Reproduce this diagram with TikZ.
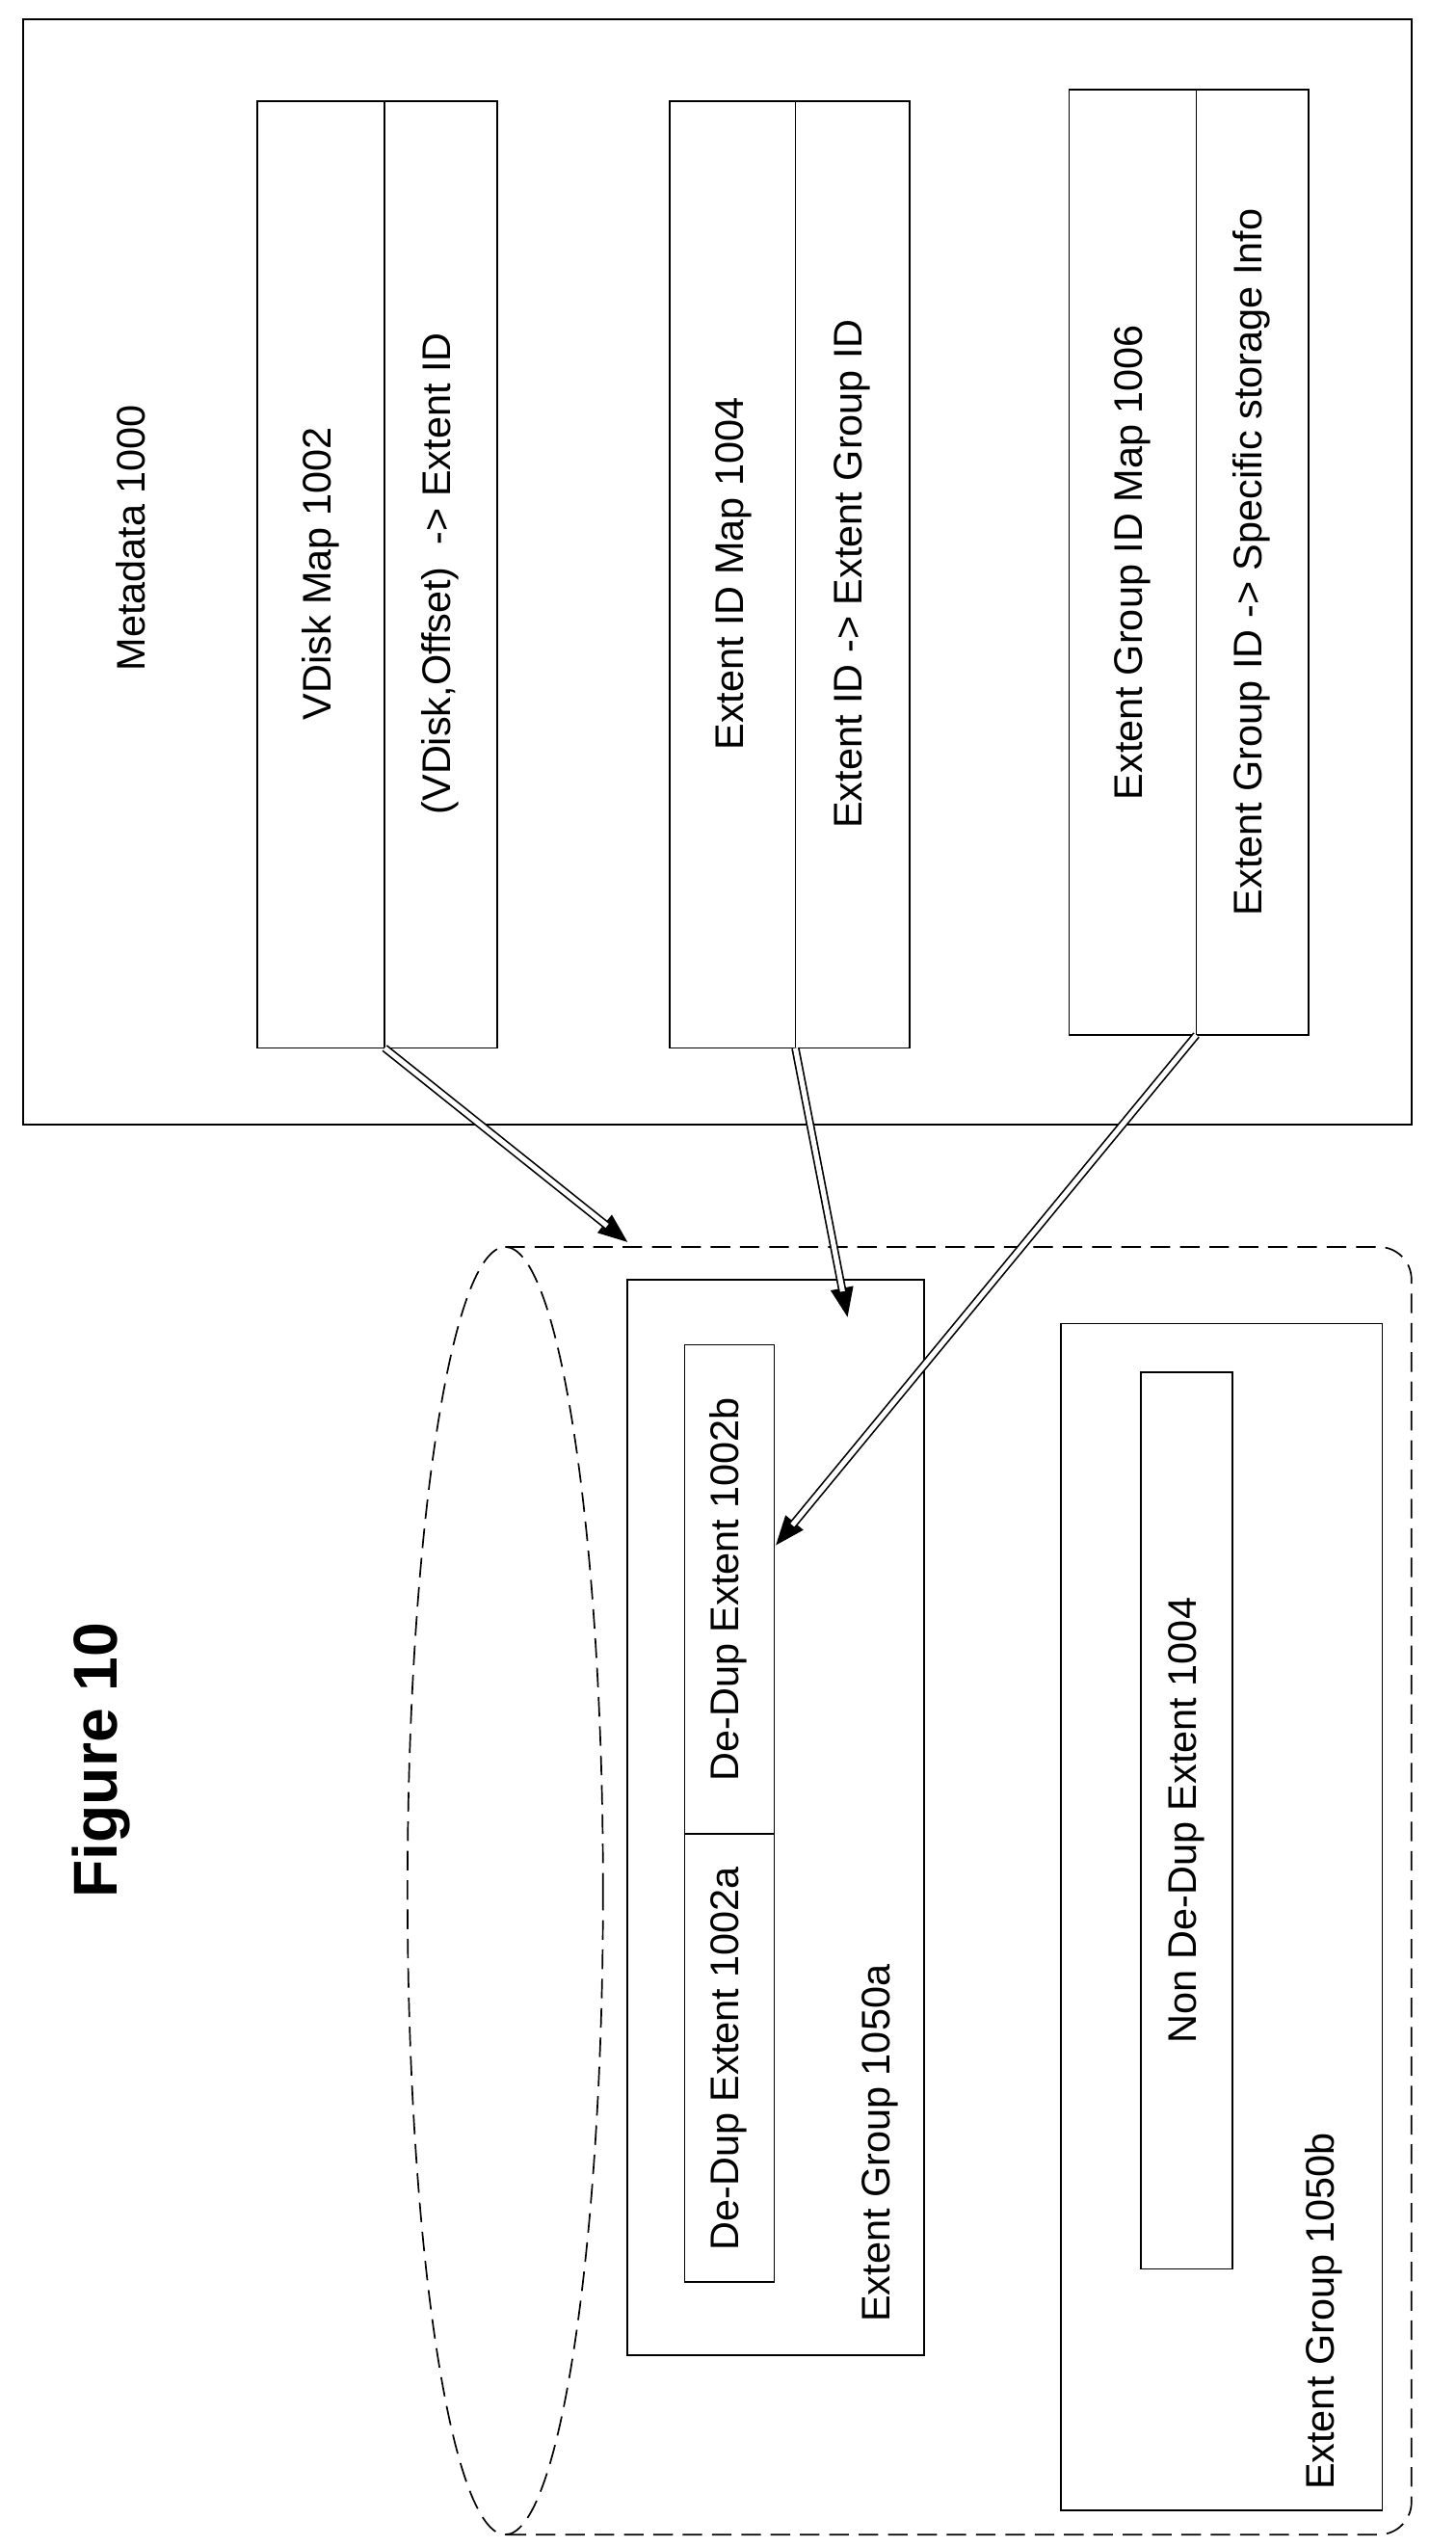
\documentclass[tikz,border=0pt]{standalone}
\usepackage{fontspec}
\setmainfont{Liberation Sans}
\usetikzlibrary{arrows.meta,positioning}
\tikzset{
  box/.style={draw, inner sep=0pt, line width=1pt},
  lbl/.style={rotate=90, font=\fontsize{24.5}{29}\selectfont},
  dbl/.style={double, double distance=3pt, line width=1pt, shorten >=16pt},
  tip/.style={-{Triangle[length=18pt,width=14pt]}, line width=1pt},
  dsh/.style={dash pattern=on 12pt off 6pt, line width=1pt}
}
\begin{document}
\begin{tikzpicture}[x=1pt,y=-1pt]
  \useasboundingbox (0,0) rectangle (893,1562);

  % metadata block
  \node[box, minimum width=852pt, minimum height=678pt] (meta) at (440,351) {};
  \node[lbl] (metat) at (80,330) {Metadata 1000};

  \node[box, minimum width=147pt, minimum height=581pt] (vmap) at (231.5,352.5) {};
  \node[box, minimum width=147pt, minimum height=581pt] (emap) at (484.5,352.5) {};
  \node[box, minimum width=147pt, minimum height=580pt] (gmap) at (729.5,345) {};
  \draw[line width=1pt] (236,62) -- (236,643);
  \draw[line width=1pt] (488,62) -- (488,643);
  \draw[line width=1pt] (734,55) -- (734,635);
  \node[lbl] (vmapt) at (197,352) {VDisk Map 1002};
  \node[lbl] (vmapk) at (270,352) {(VDisk,Offset) ~-> Extent ID};
  \node[lbl] (emapt) at (450,352) {Extent ID Map 1004};
  \node[lbl] (emapk) at (523,352) {Extent ID -> Extent Group ID};
  \node[lbl] (gmapt) at (695,345) {Extent Group ID Map 1006};
  \node[lbl] (gmapk) at (768,345) {Extent Group ID -> Specific storage Info};

  % storage cylinder
  \draw[dsh] (310,1160) ellipse (60 and 395);
  \draw[dsh] (310,765) -- (846,765) arc[start angle=-90, end angle=0, radius=20]
    -- (866,1535) arc[start angle=0, end angle=90, radius=20] -- (310,1555);

  \node[lbl, font=\fontsize{38}{42}\selectfont\bfseries] (fig) at (62,1080) {Figure 10};

  % extent group a
  \node[box, minimum width=182pt, minimum height=660pt] (grpa) at (476,1115) {};
  \node[box, minimum width=55pt, minimum height=575pt] (dd) at (447.5,1112.5) {};
  \draw[line width=1pt] (420,1125) -- (475,1125);
  \node[lbl] (dda) at (447,1263) {De-Dup Extent 1002a};
  \node[lbl] (ddb) at (447,975) {De-Dup Extent 1002b};
  \node[lbl] (grpat) at (540,1315) {Extent Group 1050a};

  % extent group b
  \node[box, minimum width=197pt, minimum height=728pt] (grpb) at (749.5,1176) {};
  \node[box, minimum width=56pt, minimum height=550pt] (nd) at (728,1117) {};
  \node[lbl] (ndt) at (728,1117) {Non De-Dup Extent 1004};
  \node[lbl] (grpbt) at (812,1418) {Extent Group 1050b};

  % arrows
  \coordinate (va) at (236,643);
  \coordinate (ea) at (488,643);
  \coordinate (ga) at (734,635);
  \coordinate (cyl) at (385,762);
  \coordinate (ga1) at (520,808);
  \coordinate (ddt) at (476,948);
  \foreach \s/\t in {va/cyl, ea/ga1, ga/ddt}{
    \draw[tip] (\s) -- (\t);
    \draw[dbl] (\s) -- (\t);
  }
\end{tikzpicture}
\end{document}
